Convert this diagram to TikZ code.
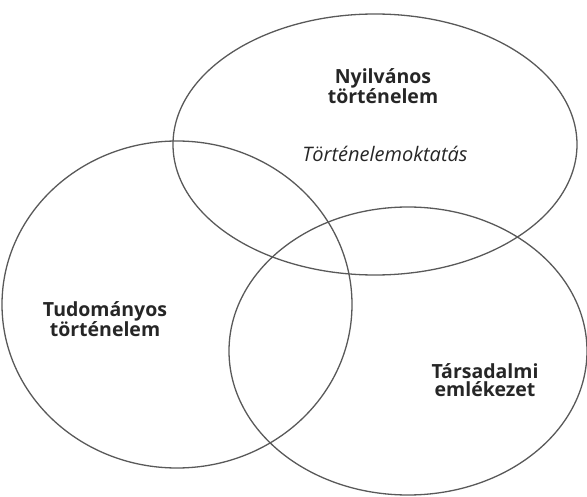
\documentclass[tikz,border=0pt]{standalone}
\usepackage{fontspec}
\setmainfont{Open Sans}
\usetikzlibrary{shapes.geometric}
\begin{document}
\begin{tikzpicture}[x=1pt,y=-1pt,
  ring/.style={draw=black!65,line width=1.3pt,ellipse,inner sep=0pt},
  lbl/.style={font=\fontsize{19.5}{18.5}\selectfont\bfseries,align=center,text=black!85,inner sep=0pt},
  ilbl/.style={font=\fontsize{20}{17}\selectfont\itshape,text=black!85,inner sep=0pt}]
\useasboundingbox (0,0) rectangle (587,497);
\node[ring,minimum width=404pt,minimum height=261pt] (top) at (375,144.5) {};
\node[ring,minimum width=350pt,minimum height=327pt] (left) at (177,304.5) {};
\node[ring,minimum width=358pt,minimum height=288pt] (right) at (408,351) {};
\node[lbl] (t1) at (383,86) {Nyilvános\\történelem};
\node[ilbl] (t2) at (385,154) {Történelemoktatás};
\node[lbl] (t3) at (105,319) {Tudományos\\történelem};
\node[lbl] (t4) at (485,380) {Társadalmi\\emlékezet};
\end{tikzpicture}
\end{document}
